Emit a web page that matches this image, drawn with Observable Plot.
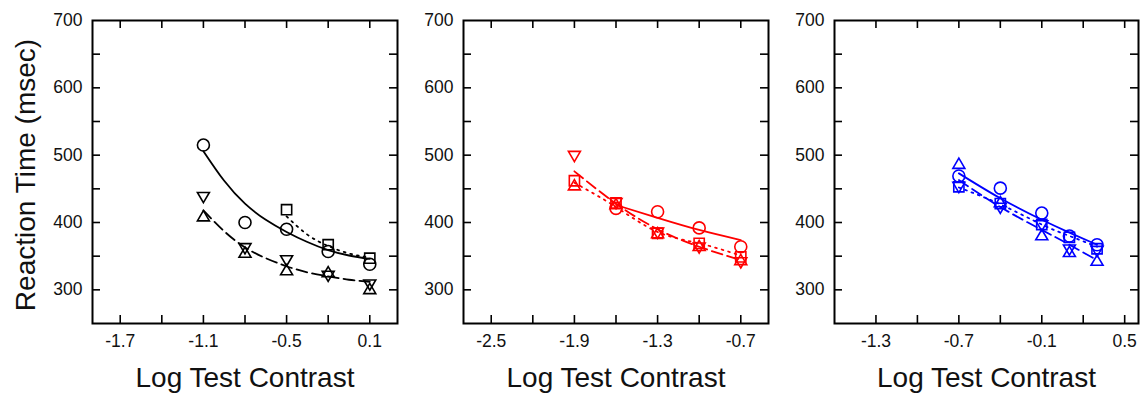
<!DOCTYPE html>
<html><head><meta charset="utf-8">
<script src="https://cdn.jsdelivr.net/npm/d3@7"></script>
<script src="https://cdn.jsdelivr.net/npm/@observablehq/plot@0.6"></script>
<style>
body{margin:0;background:#fff;width:1140px;height:393px;overflow:hidden}
#row{display:flex;}
svg{display:block;overflow:visible}
</style></head><body><div id="row"></div>
<script>
// ---------- Panel A (black) ----------
const aX = [-1.1, -0.8, -0.5, -0.2, 0.1];
const aCircle = [515, 400, 390, 357, 338];
const aSquareX = [-0.5, -0.2, 0.1];
const aSquare = [419, 367, 347];
const aDown = [437, 361, 343, 320, 307];
const aUp = [410, 356, 330, 327, 302];
const aFitX = [-1.1, -0.95, -0.8, -0.65, -0.5, -0.35, -0.2, -0.05, 0.1];
const aFitSolid = [506, 462, 428, 404, 386, 371, 359, 351, 346];
const aFitDashed = [418, 387, 363, 347, 335, 326, 320, 315, 312];
const aFitDotX = [-0.5, -0.35, -0.2, -0.05, 0.1];
const aFitDotted = [409, 382, 365, 354, 348];
const aTicks = [-1.7, -1.4, -1.1, -0.8, -0.5, -0.2, 0.1];
const aLabels = [-1.7, -1.1, -0.5, 0.1];

// ---------- Panel B (red) ----------
const bX = [-1.9, -1.6, -1.3, -1.0, -0.7];
const bCircleX = [-1.6, -1.3, -1.0, -0.7];
const bCircle = [421, 416, 392, 364];
const bSquare = [462, 429, 384, 369, 349];
const bDown = [498, 428, 384, 362, 340];
const bUp = [456, 428, 385, 366, 345];
const bFitSolidX = [-1.6, -1.3, -1.0, -0.7];
const bFitSolid = [426, 407, 389, 374];
const bFitDashed = [476, 428, 390, 364, 344];
const bFitDotted = [459, 423, 386, 369, 351];
const bTicks = [-2.5, -2.2, -1.9, -1.6, -1.3, -1.0, -0.7];
const bLabels = [-2.5, -1.9, -1.3, -0.7];

// ---------- Panel C (blue) ----------
const cX = [-0.7, -0.4, -0.1, 0.1, 0.3];
const cCircle = [469, 451, 414, 380, 367];
const cSquare = [453, 428, 397, 378, 361];
const cDown = [452, 421, 395, 359, 357];
const cUp = [488, 431, 382, 357, 344];
const cFitSolid = [473, 436, 404, 385, 367];
const cFitDashed = [463, 423, 389, 367, 344];
const cFitDotted = [452, 427, 397, 380, 364];
const cTicks = [-1.3, -1.0, -0.7, -0.4, -0.1, 0.2, 0.5];
const cLabels = [-1.3, -0.7, -0.1, 0.5];

const yTicks = [300, 350, 400, 450, 500, 550, 600, 650];
const yLabels = [300, 400, 500, 600, 700];
const xTitle = "Log Test Contrast";
const yTitle = "Reaction Time (msec)";

// ---------- symbols ----------
const rad = (s) => Math.sqrt(s / Math.PI);
const symSquare = {draw(c, s) { const h = rad(s) * 0.85; c.rect(-h, -h, 2 * h, 2 * h); }};
const symUp = {draw(c, s) { const r = rad(s); const h = r * 0.85; c.moveTo(0, -h); c.lineTo(r, h); c.lineTo(-r, h); c.closePath(); }};
const symDown = {draw(c, s) { const r = rad(s); const h = r * 0.85; c.moveTo(0, h); c.lineTo(r, -h); c.lineTo(-r, -h); c.closePath(); }};

const zip = (xs, ys) => xs.map((x, i) => ({x, y: ys[i]}));
const font = "Liberation Sans, Arial, Helvetica, sans-serif";
const H = 393, MT = 20, MB = 70, TL = 8;

function panel(o) {
  const {width, marginLeft, marginRight, domain, ticks, labels, color, pts, fits, showY} = o;
  const fw = width - marginLeft - marginRight;
  const fh = H - MT - MB;
  const marks = [
    // inward ticks on all four sides
    Plot.tickX(ticks, {x: d => d, insetTop: fh - TL, stroke: "black", strokeWidth: 1.6}),
    Plot.tickX(ticks, {x: d => d, insetBottom: fh - TL, stroke: "black", strokeWidth: 1.6}),
    Plot.tickY(yTicks, {y: d => d, insetRight: fw - TL, stroke: "black", strokeWidth: 1.6}),
    Plot.tickY(yTicks, {y: d => d, insetLeft: fw - TL, stroke: "black", strokeWidth: 1.6}),
    Plot.frame({stroke: "black", strokeWidth: 2}),
    Plot.axisX({anchor: "bottom", ticks: labels, tickSize: 0, tickPadding: 11, tickFormat: d => d.toFixed(1), fontSize: 17.5, label: null, fill: "#111"}),
    Plot.axisY({anchor: "left", ticks: yLabels, tickSize: 0, tickPadding: 10, tickFormat: d => String(d), fontSize: 17.5, label: null, fill: "#111"}),
    Plot.text([xTitle], {frameAnchor: "bottom", dy: 63, lineAnchor: "bottom", textAnchor: "middle", fontSize: 28, fill: "#111"}),
  ];
  if (showY) marks.push(Plot.text([yTitle], {frameAnchor: "left", dx: -58, dy: 3, rotate: -90, lineAnchor: "bottom", textAnchor: "middle", fontSize: 28, fill: "#111"}));
  for (const f of fits) {
    marks.push(Plot.line(f.data, {x: "x", y: "y", stroke: color, strokeWidth: 1.8, strokeDasharray: f.dash, curve: "natural"}));
  }
  for (const p of pts) {
    marks.push(Plot.dot(p.data, {x: "x", y: "y", symbol: p.sym, r: 6, stroke: color, strokeWidth: 1.6, fill: "none"}));
  }
  return Plot.plot({
    width, height: H, marginTop: MT, marginBottom: MB, marginLeft, marginRight,
    style: {fontFamily: font, background: "white"},
    x: {domain, axis: null},
    y: {domain: [250, 700], axis: null},
    marks
  });
}

const row = document.getElementById("row");
row.append(panel({
  width: 400, marginLeft: 92, marginRight: 3, domain: [-1.9, 0.3], ticks: aTicks, labels: aLabels, color: "#000", showY: true,
  pts: [
    {data: zip(aX, aCircle), sym: "circle"},
    {data: zip(aSquareX, aSquare), sym: symSquare},
    {data: zip(aX, aDown), sym: symDown},
    {data: zip(aX, aUp), sym: symUp}
  ],
  fits: [
    {data: zip(aFitX, aFitSolid), dash: null},
    {data: zip(aFitX, aFitDashed), dash: "11,5"},
    {data: zip(aFitDotX, aFitDotted), dash: "1.8,5"}
  ]
}));
row.append(panel({
  width: 371, marginLeft: 63, marginRight: 3, domain: [-2.7, -0.5], ticks: bTicks, labels: bLabels, color: "#ff0000", showY: false,
  pts: [
    {data: zip(bCircleX, bCircle), sym: "circle"},
    {data: zip(bX, bSquare), sym: symSquare},
    {data: zip(bX, bDown), sym: symDown},
    {data: zip(bX, bUp), sym: symUp}
  ],
  fits: [
    {data: zip(bFitSolidX, bFitSolid), dash: null},
    {data: zip(bX, bFitDashed), dash: "11,5"},
    {data: zip(bX, bFitDotted), dash: "1.8,5"}
  ]
}));
row.append(panel({
  width: 369, marginLeft: 63, marginRight: 2, domain: [-1.6, 0.6], ticks: cTicks, labels: cLabels, color: "#0000ff", showY: false,
  pts: [
    {data: zip(cX, cCircle), sym: "circle"},
    {data: zip(cX, cSquare), sym: symSquare},
    {data: zip(cX, cDown), sym: symDown},
    {data: zip(cX, cUp), sym: symUp}
  ],
  fits: [
    {data: zip(cX, cFitSolid), dash: null},
    {data: zip(cX, cFitDashed), dash: "11,5"},
    {data: zip(cX, cFitDotted), dash: "1.8,5"}
  ]
}));
</script></body></html>
